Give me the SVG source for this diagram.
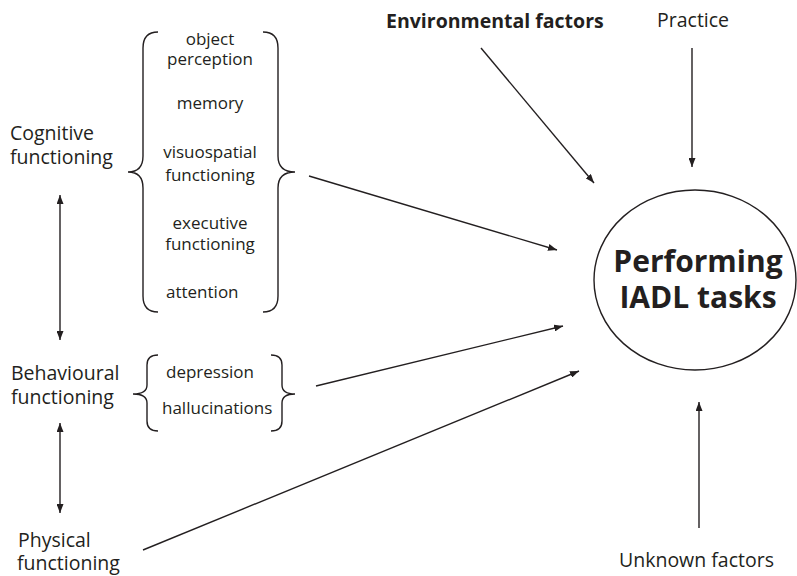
<svg xmlns="http://www.w3.org/2000/svg" width="797" height="576" viewBox="0 0 797 576">
<defs>
<marker id="ah" viewBox="0 0 9 7" refX="9" refY="3.5" markerWidth="9" markerHeight="7" markerUnits="userSpaceOnUse" orient="auto-start-reverse">
<path d="M0,0 L9,3.5 L0,7 z" fill="#231f20"/>
</marker>
</defs>
<style>
text{font-family:"Open Sans","Liberation Sans",sans-serif;fill:#231f20}
.lab{font-size:19.5px}
.sub{font-size:17px}
.bold{font-weight:bold}
.brace{fill:none;stroke:#231f20;stroke-width:1.4}
.con line{stroke:#231f20;stroke-width:1.4}
</style>
<rect width="797" height="576" fill="#ffffff"/>
<g id="cognitive">
<text class="lab" x="10" y="140">Cognitive</text>
<text class="lab" x="10" y="164">functioning</text>
<path class="brace" d="M158,32 Q143,32 143,48 L143,156 Q143,172 128,172 Q143,172 143,188 L143,296 Q143,312 158,312"/>
<path class="brace" d="M263,32 Q278,32 278,48 L278,156 Q278,172 295,172 Q278,172 278,188 L278,296 Q278,312 263,312"/>
<g text-anchor="middle">
<text class="sub" x="210" y="45">object</text>
<text class="sub" x="210" y="65">perception</text>
<text class="sub" x="210" y="109">memory</text>
<text class="sub" x="210" y="158">visuospatial</text>
<text class="sub" x="210" y="181">functioning</text>
<text class="sub" x="210" y="229">executive</text>
<text class="sub" x="210" y="250">functioning</text>
</g>
<text class="sub" x="166" y="298">attention</text>
</g>
<g id="behavioural">
<text class="lab" x="11" y="380">Behavioural</text>
<text class="lab" x="11" y="404">functioning</text>
<path class="brace" d="M158,355 Q147,355 147,365 L147,385 Q147,394 133,394 Q147,394 147,403 L147,421 Q147,431 158,431"/>
<path class="brace" d="M271,355 Q282,355 282,365 L282,385 Q282,394 295,394 Q282,394 282,403 L282,421 Q282,431 271,431"/>
<text class="sub" x="166" y="378">depression</text>
<text class="sub" x="162" y="414">hallucinations</text>
</g>
<g id="physical">
<text class="lab" x="18" y="547">Physical</text>
<text class="lab" x="17" y="570">functioning</text>
</g>
<g id="environmental">
<text class="lab bold" x="386" y="28">Environmental factors</text>
</g>
<g id="practice">
<text class="lab" x="657" y="27">Practice</text>
</g>
<g id="unknown">
<text class="lab" x="619" y="567">Unknown factors</text>
</g>
<g id="iadl">
<ellipse cx="695" cy="280" rx="101" ry="90" fill="none" stroke="#231f20" stroke-width="1.4"/>
<text class="bold" x="698" y="272" font-size="30" text-anchor="middle">Performing</text>
<text class="bold" x="698" y="308" font-size="30" text-anchor="middle">IADL tasks</text>
</g>
<g id="connectors" class="con">
<line x1="60" y1="195" x2="60" y2="340" marker-start="url(#ah)" marker-end="url(#ah)"/>
<line x1="60" y1="423" x2="60" y2="513" marker-start="url(#ah)" marker-end="url(#ah)"/>
<line x1="309" y1="176" x2="557" y2="250" marker-end="url(#ah)"/>
<line x1="316" y1="386" x2="563" y2="326" marker-end="url(#ah)"/>
<line x1="143" y1="550" x2="579" y2="371" marker-end="url(#ah)"/>
<line x1="481" y1="48" x2="594" y2="183" marker-end="url(#ah)"/>
<line x1="692" y1="48" x2="692" y2="167" marker-end="url(#ah)"/>
<line x1="699" y1="528" x2="699" y2="402" marker-end="url(#ah)"/>
</g>
</svg>
